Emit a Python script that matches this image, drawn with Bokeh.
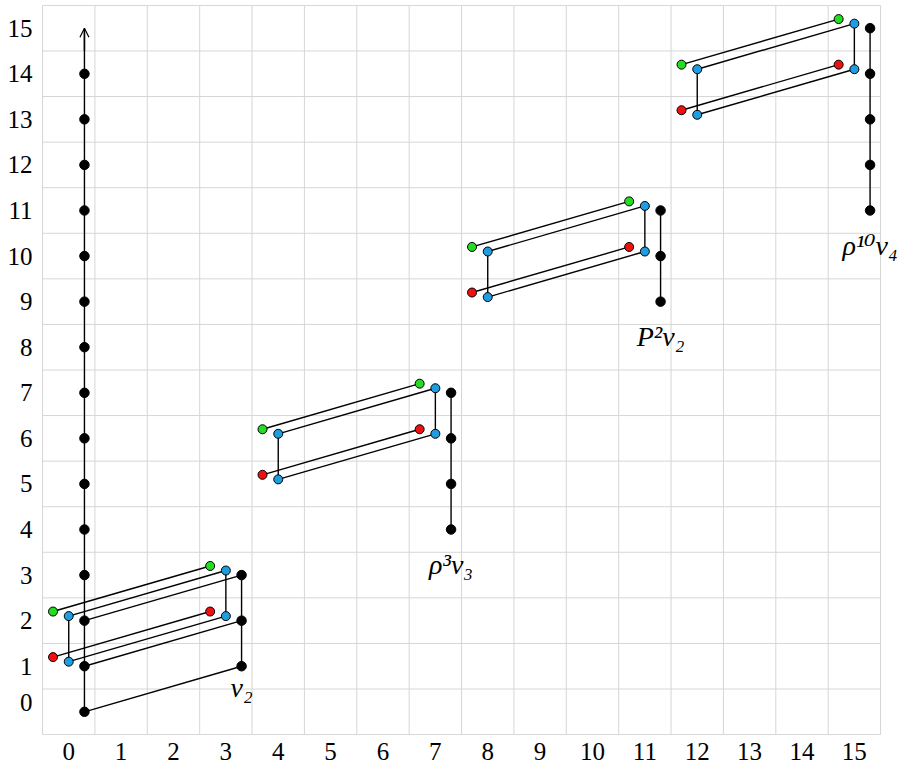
from bokeh.plotting import figure
from bokeh.models import FixedTicker, Label, Arrow, OpenHead, Range1d, PrintfTickFormatter
from bokeh.embed import file_html
from bokeh.resources import INLINE

# ---- data ----
stems = list(range(16))
filtrations = list(range(16))

# classes (stem, filtration)
black_x = [0] * 15 + [3, 3, 3] + [7, 7, 7, 7] + [11, 11, 11] + [15, 15, 15, 15, 15]
black_y = list(range(15)) + [1, 2, 3] + [4, 5, 6, 7] + [9, 10, 11] + [11, 12, 13, 14, 15]
blue_x = [0, 0, 3, 3, 4, 4, 7, 7, 8, 8, 11, 11, 12, 12, 15, 15]
blue_y = [1, 2, 2, 3, 5, 6, 6, 7, 9, 10, 10, 11, 13, 14, 14, 15]
red_x = [0, 3, 4, 7, 8, 11, 12, 15]
red_y = [1, 2, 5, 6, 9, 10, 13, 14]
green_x = [0, 3, 4, 7, 8, 11, 12, 15]
green_y = [2, 3, 6, 7, 10, 11, 14, 15]

# structure lines (start -> end)
black_seg_x0 = [0, 0, 0, 0, 3, 7, 11, 15]
black_seg_y0 = [0, 0, 1, 2, 1, 4, 9, 11]
black_seg_x1 = [0, 3, 3, 3, 3, 7, 11, 15]
black_seg_y1 = [15, 1, 2, 3, 3, 7, 11, 15]
blue_seg_x0 = [0, 0, 0, 3, 4, 4, 4, 7, 8, 8, 8, 11, 12, 12, 12, 15]
blue_seg_y0 = [1, 2, 1, 2, 5, 6, 5, 6, 9, 10, 9, 10, 13, 14, 13, 14]
blue_seg_x1 = [3, 3, 0, 3, 7, 7, 4, 7, 11, 11, 8, 11, 15, 15, 12, 15]
blue_seg_y1 = [2, 3, 2, 3, 6, 7, 6, 7, 10, 11, 10, 11, 14, 15, 14, 15]
red_seg_x0 = [0, 4, 8, 12]
red_seg_y0 = [1, 5, 9, 13]
red_seg_x1 = [3, 7, 11, 15]
red_seg_y1 = [2, 6, 10, 14]
green_seg_x0 = [0, 4, 8, 12]
green_seg_y0 = [2, 6, 10, 14]
green_seg_x1 = [3, 7, 11, 15]
green_seg_y1 = [3, 7, 11, 15]

# tower arrow
tower_stem = 0
tower_top = 15

# class names
name_text = ["v₂", "ρ³v₃", "P²v₂", "ρ¹⁰v₄"]
name_x = [3, 7, 11, 15]
name_y = [1, 4, 9, 11]

# ---- style ----
OFF = {"black": (0.3, 0.0), "blue": (0.0, 0.1), "red": (-0.3, 0.2), "green": (-0.3, 0.2)}
FILL = {"black": "black", "blue": "#1e9ee0", "red": "#ee1111", "green": "#22dd22"}
GRID = "#d6d6d6"
SERIF = "'Liberation Serif', 'Times New Roman', 'DejaVu Serif', serif"

def sh(vals, d):
    return [v + d for v in vals]

p = figure(width=901, height=773,
           x_range=Range1d(-0.52, 15.9), y_range=Range1d(-0.52, 15.52),
           output_backend="svg", toolbar_location=None,
           min_border_left=41, min_border_right=0, min_border_top=4, min_border_bottom=38)

p.outline_line_color = None
p.grid.visible = False
p.background_fill_color = "white"
p.border_fill_color = "white"

# cell grid (cells centred on integer stems / filtrations)
lo_x, hi_x = stems[0] - 0.5, stems[-1] + 0.5
lo_y, hi_y = filtrations[0] - 0.5, filtrations[-1] + 0.5
gx = [s - 0.5 for s in stems] + [hi_x]
gy = [f - 0.5 for f in filtrations] + [hi_y]
p.segment(x0=gx, y0=[lo_y] * len(gx), x1=gx, y1=[hi_y] * len(gx), line_color=GRID, line_width=1)
p.segment(x0=[lo_x] * len(gy), y0=gy, x1=[hi_x] * len(gy), y1=gy, line_color=GRID, line_width=1)

p.xaxis.ticker = FixedTicker(ticks=stems)
# the "0" filtration label sits a little higher in the reference
p.yaxis.ticker = FixedTicker(ticks=[f + (0.2 if f == 0 else 0) for f in filtrations])
p.yaxis.formatter = PrintfTickFormatter(format="%d")
p.xaxis.formatter = PrintfTickFormatter(format="%d")
for ax in (p.xaxis, p.yaxis):
    ax.axis_line_color = None
    ax.major_tick_line_color = None
    ax.minor_tick_line_color = None
    ax.major_tick_out = 0
    ax.major_tick_in = 0
    ax.major_label_text_font = SERIF
    ax.major_label_text_font_size = "25px"
    ax.major_label_text_color = "black"
p.xaxis.major_label_standoff = 7
p.yaxis.major_label_standoff = 9

LW = 1.4
for col, x0, y0, x1, y1 in [("black", black_seg_x0, black_seg_y0, black_seg_x1, black_seg_y1),
                            ("blue", blue_seg_x0, blue_seg_y0, blue_seg_x1, blue_seg_y1),
                            ("red", red_seg_x0, red_seg_y0, red_seg_x1, red_seg_y1),
                            ("green", green_seg_x0, green_seg_y0, green_seg_x1, green_seg_y1)]:
    dx, dy = OFF[col]
    p.segment(x0=sh(x0, dx), y0=sh(y0, dy), x1=sh(x1, dx), y1=sh(y1, dy),
              line_color="black", line_width=LW)

p.add_layout(Arrow(end=OpenHead(size=9, line_width=1.2, line_color="black"),
                   x_start=tower_stem + OFF["black"][0], y_start=tower_top - 0.5,
                   x_end=tower_stem + OFF["black"][0], y_end=tower_top,
                   line_color="black", line_width=LW))

for col, xs, ys in [("black", black_x, black_y), ("blue", blue_x, blue_y),
                    ("red", red_x, red_y), ("green", green_x, green_y)]:
    dx, dy = OFF[col]
    p.scatter(x=sh(xs, dx), y=sh(ys, dy), size=9.5 if col == "black" else 9,
              fill_color=FILL[col], line_color="black", line_width=1)

name_drop = [21, 35, 35, 35]
for t, x, y, d in zip(name_text, name_x, name_y, name_drop):
    p.add_layout(Label(x=x + OFF["black"][0], y=y, y_offset=-d, text=t,
                       text_align="center", text_baseline="alphabetic",
                       text_font=SERIF, text_font_style="italic",
                       text_font_size="28px", text_color="black"))

open("out.html", "w").write(file_html(p, INLINE))
